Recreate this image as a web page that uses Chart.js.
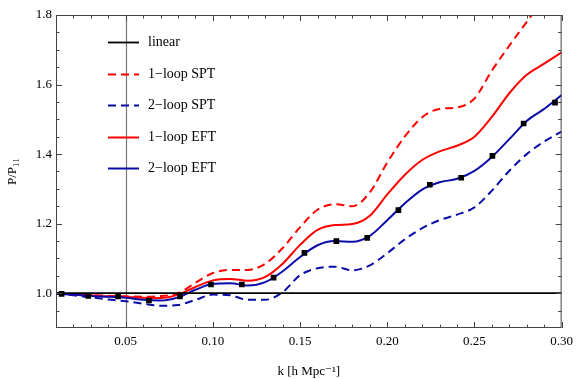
<!DOCTYPE html>
<html>
<head>
<meta charset="utf-8">
<script src="https://cdn.jsdelivr.net/npm/chart.js@4.4.0/dist/chart.umd.min.js"></script>
<style>
  html, body { margin: 0; padding: 0; background: #fff; }
  canvas { display: block; }
</style>
</head>
<body>
<canvas id="ratioChart" width="579" height="379" style="width:579px;height:379px"></canvas>
<script>
// k values (h/Mpc) where the curves are read
var k = [0.01, 0.02, 0.03, 0.04, 0.05, 0.06, 0.07, 0.08, 0.09, 0.10,
         0.11, 0.12, 0.13, 0.14, 0.15, 0.16, 0.17, 0.18, 0.19, 0.20,
         0.21, 0.22, 0.23, 0.24, 0.25, 0.26, 0.27, 0.28, 0.29, 0.30];

// P / P11 for each curve
var spt1 = [0.999, 0.997, 0.995, 0.993, 0.991, 0.990, 0.992, 1.000, 1.030, 1.058,
            1.067, 1.067, 1.085, 1.130, 1.190, 1.240, 1.256, 1.250, 1.290, 1.376,
            1.450, 1.506, 1.530, 1.534, 1.560, 1.640, 1.712, 1.780, 1.850, 1.915];
var spt2 = [0.999, 0.994, 0.988, 0.982, 0.977, 0.970, 0.964, 0.966, 0.981, 0.996,
            0.994, 0.981, 0.981, 1.003, 1.052, 1.072, 1.076, 1.066, 1.080, 1.115,
            1.155, 1.187, 1.210, 1.226, 1.247, 1.295, 1.352, 1.400, 1.436, 1.465];
var eft1 = [0.999, 0.997, 0.994, 0.991, 0.989, 0.987, 0.986, 0.996, 1.018, 1.037,
            1.041, 1.036, 1.047, 1.085, 1.139, 1.182, 1.196, 1.199, 1.223, 1.284,
            1.340, 1.383, 1.408, 1.424, 1.450, 1.507, 1.575, 1.628, 1.660, 1.693];
var eft2 = [0.999, 0.996, 0.992, 0.990, 0.987, 0.981, 0.979, 0.988, 1.010, 1.027,
            1.029, 1.022, 1.032, 1.063, 1.104, 1.138, 1.150, 1.148, 1.165, 1.210,
            1.258, 1.298, 1.319, 1.329, 1.352, 1.392, 1.443, 1.495, 1.530, 1.570];

// black square points
var pointK = [0.0132, 0.0285, 0.0456, 0.0633, 0.0811, 0.0989, 0.1166, 0.1348, 0.1525,
              0.1708, 0.1885, 0.2064, 0.2244, 0.2424, 0.2603, 0.2782, 0.2962];
var pointP = [0.998, 0.992, 0.991, 0.979, 0.991, 1.025, 1.025, 1.045, 1.116,
              1.150, 1.159, 1.239, 1.312, 1.332, 1.395, 1.488, 1.548];

// linear reference
var linearK = [0.01, 0.30];
var linearP = [1.0, 1.0];

var serif = '"Liberation Serif", "DejaVu Serif", serif';
var RED = '#ff0000';
var BLUE = '#0b0ba8';

function pts(xs, ys) {
    return xs.map(function (x, i) { return { x: x, y: ys[i] }; });
}

// frame, inward ticks, the k = 0.05 line, legend
var framePlugin = {
    id: 'frame',
    beforeDatasetsDraw: function (chart) {
        var ctx = chart.ctx, a = chart.chartArea, xs = chart.scales.x;
        var px = Math.round(xs.getPixelForValue(0.05)) + 0.5;
        ctx.save();
        ctx.strokeStyle = '#777';
        ctx.lineWidth = 1.2;
        ctx.beginPath();
        ctx.moveTo(px, a.top);
        ctx.lineTo(px, a.bottom);
        ctx.stroke();
        ctx.restore();
    },
    afterDraw: function (chart) {
        var ctx = chart.ctx, a = chart.chartArea;
        var xs = chart.scales.x, ys = chart.scales.y;
        ctx.save();
        ctx.strokeStyle = '#444';
        ctx.lineWidth = 1;
        ctx.strokeRect(a.left + 0.5, a.top + 0.5, a.right - a.left - 1, a.bottom - a.top - 1);
        ctx.beginPath();
        var i, v, p, len;
        for (i = 2; i <= 30; i++) {
            v = i / 100;
            p = Math.round(xs.getPixelForValue(v)) + 0.5;
            len = (i % 5 === 0) ? 6 : 3.5;
            ctx.moveTo(p, a.bottom); ctx.lineTo(p, a.bottom - len);
            ctx.moveTo(p, a.top); ctx.lineTo(p, a.top + len);
        }
        for (i = 19; i <= 36; i++) {
            v = i / 20;
            p = Math.round(ys.getPixelForValue(v)) + 0.5;
            len = (i % 4 === 0) ? 6 : 3.5;
            ctx.moveTo(a.left, p); ctx.lineTo(a.left + len, p);
            ctx.moveTo(a.right, p); ctx.lineTo(a.right - len, p);
        }
        ctx.stroke();

        var x0 = a.left + 52;
        var y0 = a.top + 27;
        ctx.font = '14px ' + serif;
        ctx.textBaseline = 'middle';
        ctx.textAlign = 'left';
        var row = 0;
        chart.data.datasets.forEach(function (ds) {
            if (!ds.inLegend) return;
            var y = Math.round(y0 + row * 31.6) + 0.5;
            ctx.strokeStyle = ds.borderColor;
            ctx.lineWidth = ds.borderWidth;
            ctx.setLineDash(ds.borderDash || []);
            ctx.beginPath();
            ctx.moveTo(x0, y);
            ctx.lineTo(x0 + 31, y);
            ctx.stroke();
            ctx.setLineDash([]);
            ctx.fillStyle = '#000';
            ctx.fillText(ds.label, x0 + 40, y);
            row++;
        });
        ctx.restore();
    }
};

var ctx = document.getElementById('ratioChart').getContext('2d');
var chart = new Chart(ctx, {
    type: 'line',
    data: {
        datasets: [
            { label: 'points', data: pts(pointK, pointP), showLine: false,
              pointStyle: 'rect', pointRadius: 4, pointBackgroundColor: '#000',
              pointBorderWidth: 0, borderColor: '#000', order: 0 },
            { label: 'linear', inLegend: true, data: pts(linearK, linearP),
              borderColor: '#000', borderWidth: 1.8, pointRadius: 0, order: 1 },
            { label: '1\u2212loop SPT', inLegend: true, data: pts(k, spt1),
              borderColor: RED, borderWidth: 2, borderDash: [8, 5], pointRadius: 0, order: 5 },
            { label: '2\u2212loop SPT', inLegend: true, data: pts(k, spt2),
              borderColor: BLUE, borderWidth: 2, borderDash: [8, 5], pointRadius: 0, order: 4 },
            { label: '1\u2212loop EFT', inLegend: true, data: pts(k, eft1),
              borderColor: RED, borderWidth: 2, pointRadius: 0, order: 3 },
            { label: '2\u2212loop EFT', inLegend: true, data: pts(k, eft2),
              borderColor: BLUE, borderWidth: 2, pointRadius: 0, order: 2 }
        ]
    },
    options: {
        responsive: false,
        animation: false,
        devicePixelRatio: 1,
        layout: { padding: { top: 15, right: 15, left: 0, bottom: 0 } },
        plugins: { legend: { display: false }, tooltip: { enabled: false } },
        datasets: { line: { cubicInterpolationMode: 'monotone', fill: false } },
        scales: {
            x: {
                type: 'linear', min: 0.01, max: 0.30,
                grid: { display: false, drawTicks: false },
                border: { display: false },
                ticks: {
                    stepSize: 0.05, includeBounds: false, padding: 6,
                    color: '#000', font: { family: serif, size: 13 },
                    callback: function (v) { return v.toFixed(2); }
                },
                title: {
                    display: true, text: 'k [h Mpc\u207B\u00B9]', color: '#000',
                    font: { family: serif, size: 13 }, padding: 0
                },
                afterFit: function (s) { s.height = 51; }
            },
            y: {
                type: 'linear', min: 0.9, max: 1.8,
                grid: { display: false, drawTicks: false },
                border: { display: false },
                ticks: {
                    stepSize: 0.2, includeBounds: false, padding: 4,
                    color: '#000', font: { family: serif, size: 13 },
                    callback: function (v) { return v.toFixed(1); }
                },
                title: {
                    display: true, text: 'P/P\u2081\u2081', color: '#000',
                    font: { family: serif, size: 13 }, padding: { top: 5, bottom: 0 }
                },
                afterFit: function (s) { s.width = 56; }
            }
        }
    },
    plugins: [framePlugin]
});
</script>
</body>
</html>
